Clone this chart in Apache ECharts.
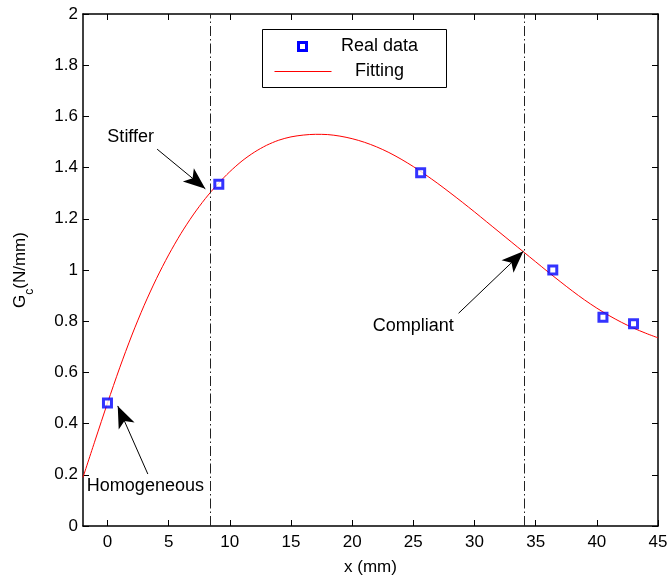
<!DOCTYPE html>
<html>
<head>
<meta charset="utf-8">
<script src="https://cdn.jsdelivr.net/npm/echarts@6/dist/echarts.min.js"></script>
<style>
  html, body { margin: 0; padding: 0; background: #fff; }
  #chart { width: 671px; height: 581px; }
</style>
</head>
<body>
<div id="chart"></div>
<script>
// Measured fracture toughness along the specimen
const realX = [0, 9.1, 25.6, 36.4, 40.5, 43];
const realY = [0.48, 1.335, 1.38, 1.0, 0.815, 0.79];

// Fitted curve, sampled along x
const fitX = [-2, -1, 0, 1, 2, 3, 4, 5, 6, 7, 8, 9, 10, 11, 12, 13, 14, 15, 16, 17, 18, 19, 20,
              21, 22, 23, 24, 25, 26, 27, 28, 29, 30, 31, 32, 33, 34, 35, 36, 37, 38, 39, 40, 41, 42, 43, 44, 45];
const fitY = [0.19, 0.336, 0.48, 0.618, 0.746, 0.862, 0.966, 1.059, 1.142, 1.215, 1.279, 1.335, 1.384, 1.426, 1.46, 1.487, 1.507, 1.52, 1.527, 1.53, 1.529, 1.523, 1.513,
              1.499, 1.481, 1.459, 1.433, 1.404, 1.372, 1.338, 1.302, 1.265, 1.227, 1.188, 1.149, 1.11, 1.071, 1.032, 0.993, 0.955, 0.918, 0.883, 0.851, 0.822, 0.796, 0.773, 0.753, 0.735];

// Region boundaries (dash-dot verticals)
const dividers = [8.4, 34.1];

// Tick labels
const xTicks = [0, 5, 10, 15, 20, 25, 30, 35, 40, 45];
const yTicks = [0, 0.2, 0.4, 0.6, 0.8, 1, 1.2, 1.4, 1.6, 1.8, 2];

// Callouts: label, label anchor, arrow tail, arrow head
const calloutText = ['Stiffer', 'Compliant', 'Homogeneous'];
const calloutLabelAt = [[1.9, 1.518], [25.0, 0.78], [3.1, 0.158]];
const calloutTail = [[4.06, 1.472], [28.7, 0.831], [3.3, 0.203]];
const calloutHead = [[8.0, 1.317], [34.0, 1.073], [0.84, 0.469]];

const legendNames = ['Real data', 'Fitting'];

const FONT = '"Liberation Sans", Arial, Helvetica, sans-serif';
const FS = 17;
const FS_TEXT = 18;
const zip = (a, b) => a.map((v, i) => [v, b[i]]);

const chart = echarts.init(document.getElementById('chart'), null, { renderer: 'canvas' });

const axisLineStyle = { color: '#000', width: 1.5 };
const tickStyle = { inside: true, length: 6, lineStyle: { color: '#000', width: 1 } };

// Boxed legend in the upper middle of the plot
const legendBox = { x: 262, y: 29, w: 184, h: 58 };
const legendGraphic = {
  type: 'group', left: legendBox.x, top: legendBox.y, z: 100,
  children: [
    { type: 'rect', shape: { x: 0, y: 0, width: legendBox.w, height: legendBox.h },
      style: { fill: '#fff', stroke: '#000', lineWidth: 1 } },
    { type: 'rect', shape: { x: 36, y: 13, width: 8, height: 8 },
      style: { fill: '#fff', stroke: '#0000ff', lineWidth: 3 } },
    { type: 'line', shape: { x1: 12, y1: 42, x2: 69, y2: 42 },
      style: { stroke: '#ff0000', lineWidth: 1 } },
    { type: 'text', style: { x: 117, y: 17, text: legendNames[0], align: 'center', verticalAlign: 'middle',
      font: FS_TEXT + 'px ' + FONT, fill: '#000' } },
    { type: 'text', style: { x: 117, y: 42, text: legendNames[1], align: 'center', verticalAlign: 'middle',
      font: FS_TEXT + 'px ' + FONT, fill: '#000' } }
  ]
};

chart.setOption({
  animation: false,
  backgroundColor: '#fff',
  grid: { left: 83, right: 13, top: 14, bottom: 52, containLabel: false },
  graphic: [legendGraphic],
  xAxis: [{
    type: 'value', min: -2, max: 45,
    name: 'x (mm)', nameLocation: 'middle', nameGap: 33,
    nameTextStyle: { fontFamily: FONT, fontSize: FS, color: '#000' },
    axisLine: { show: true, onZero: false, lineStyle: axisLineStyle },
    axisTick: Object.assign({ customValues: xTicks }, tickStyle),
    axisLabel: { customValues: xTicks, fontFamily: FONT, fontSize: FS, color: '#000', margin: 8 },
    splitLine: { show: false }
  }, {
    type: 'value', min: -2, max: 45, position: 'top',
    axisLine: { show: true, onZero: false, lineStyle: axisLineStyle },
    axisTick: Object.assign({ customValues: xTicks }, tickStyle),
    axisLabel: { show: false },
    splitLine: { show: false }
  }],
  yAxis: [{
    type: 'value', min: 0, max: 2,
    name: '{g|G}{s|c}{g|(N/mm)}', nameLocation: 'middle', nameGap: 51,
    nameTextStyle: {
      fontFamily: FONT, color: '#000',
      rich: {
        g: { fontFamily: FONT, fontSize: FS, color: '#000', lineHeight: 24, verticalAlign: 'middle' },
        s: { fontFamily: FONT, fontSize: 12, color: '#000', lineHeight: 24, verticalAlign: 'bottom', padding: [0, 0, -4, 0] }
      }
    },
    axisLine: { show: true, onZero: false, lineStyle: axisLineStyle },
    axisTick: Object.assign({ customValues: yTicks }, tickStyle),
    axisLabel: { customValues: yTicks, fontFamily: FONT, fontSize: FS, color: '#000', margin: 5,
      formatter: v => String(Math.round(v * 10) / 10) },
    splitLine: { show: false }
  }, {
    type: 'value', min: 0, max: 2, position: 'right',
    axisLine: { show: true, onZero: false, lineStyle: axisLineStyle },
    axisTick: Object.assign({ customValues: yTicks }, tickStyle),
    axisLabel: { show: false },
    splitLine: { show: false }
  }],
  series: [{
    name: legendNames[1],
    type: 'line',
    smooth: 0.3,
    symbol: 'none',
    data: zip(fitX, fitY),
    lineStyle: { color: '#ff0000', width: 1 },
    itemStyle: { color: '#ff0000' },
    z: 3,
    markLine: {
      silent: true,
      symbol: ['none', 'none'],
      label: { show: false },
      lineStyle: { color: '#222', width: 1, type: [10, 3, 1.5, 3] },
      data: dividers.map(v => ({ xAxis: v }))
    }
  }, {
    name: legendNames[0],
    type: 'scatter',
    symbol: 'rect',
    symbolSize: 8,
    data: zip(realX, realY),
    itemStyle: { color: '#fff', borderColor: '#0000ff', borderWidth: 3 },
    z: 4
  }, {
    // callout arrows and their labels
    name: 'callouts',
    type: 'line',
    data: [],
    z: 5,
    markLine: {
      silent: true,
      symbol: ['none', 'arrow'],
      symbolSize: [13, 22],
      label: { show: false },
      lineStyle: { color: '#000', width: 1, type: 'solid' },
      data: calloutTail.map((t, i) => [{ coord: t }, { coord: calloutHead[i] }])
    },
    markPoint: {
      silent: true,
      symbol: 'circle', symbolSize: 0,
      label: { show: true, position: 'inside', fontFamily: FONT, fontSize: FS_TEXT, color: '#000',
        formatter: p => p.name },
      data: calloutText.map((t, i) => ({ name: t, coord: calloutLabelAt[i] }))
    }
  }]
});
</script>
</body>
</html>
